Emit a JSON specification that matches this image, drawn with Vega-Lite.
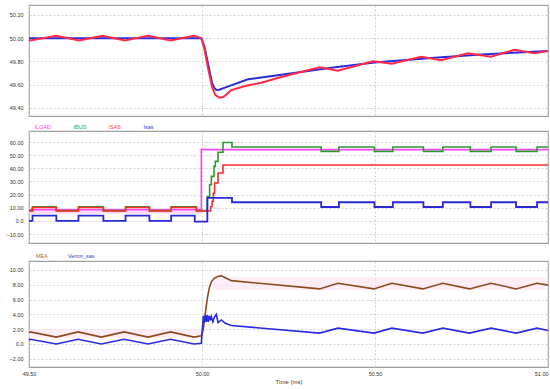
{
  "$schema": "https://vega.github.io/schema/vega-lite/v6.json",
  "padding": {"left": 5, "top": 4, "right": 3, "bottom": 2},
  "background": "white",
  "config": {
    "font": "Liberation Sans",
    "view": {"stroke": "#a0a0a0", "strokeWidth": 1.2},
    "axis": {
      "labelFontSize": 5.5,
      "labelColor": "#333333",
      "labelOverlap": false,
      "labelBound": false,
      "ticks": false,
      "domain": false,
      "grid": true,
      "gridColor": "#c4c4c4",
      "gridDash": [2, 2],
      "gridWidth": 0.8,
      "labelPadding": 6,
      "titleFontSize": 6,
      "titleFontWeight": "normal",
      "titleColor": "#333333",
      "titlePadding": 3
    },
    "legend": {
      "orient": "top",
      "direction": "horizontal",
      "title": null,
      "symbolSize": 0,
      "symbolStrokeWidth": 0,
      "labelOffset": 0,
      "labelFontSize": 5.5,
      "columnPadding": 16,
      "offset": 0,
      "padding": 0
    }
  },
  "datasets": {
    "top": [
      {"s": "Fsas", "t": 49.5, "v": 50.0},
      {"s": "Fsas", "t": 49.998, "v": 50.0},
      {"s": "Fsas", "t": 50.0068, "v": 49.93},
      {"s": "Fsas", "t": 50.0175, "v": 49.78},
      {"s": "Fsas", "t": 50.029, "v": 49.615},
      {"s": "Fsas", "t": 50.0357, "v": 49.57},
      {"s": "Fsas", "t": 50.0414, "v": 49.553},
      {"s": "Fsas", "t": 50.0501, "v": 49.556},
      {"s": "Fsas", "t": 50.0703, "v": 49.578},
      {"s": "Fsas", "t": 50.1329, "v": 49.645},
      {"s": "Fsas", "t": 50.1713, "v": 49.66},
      {"s": "Fsas", "t": 50.2291, "v": 49.685},
      {"s": "Fsas", "t": 50.3735, "v": 49.745},
      {"s": "Fsas", "t": 50.4985, "v": 49.79},
      {"s": "Fsas", "t": 50.6622, "v": 49.83},
      {"s": "Fsas", "t": 50.8066, "v": 49.86},
      {"s": "Fsas", "t": 51.0, "v": 49.89},
      {"s": "Fmea", "t": 49.5, "v": 49.985},
      {"s": "Fmea", "t": 49.504, "v": 49.98},
      {"s": "Fmea", "t": 49.579, "v": 50.02},
      {"s": "Fmea", "t": 49.645, "v": 49.98},
      {"s": "Fmea", "t": 49.712, "v": 50.02},
      {"s": "Fmea", "t": 49.777, "v": 49.98},
      {"s": "Fmea", "t": 49.844, "v": 50.02},
      {"s": "Fmea", "t": 49.909, "v": 49.98},
      {"s": "Fmea", "t": 49.977, "v": 50.02},
      {"s": "Fmea", "t": 49.998, "v": 50.0},
      {"s": "Fmea", "t": 50.0068, "v": 49.91},
      {"s": "Fmea", "t": 50.0175, "v": 49.74},
      {"s": "Fmea", "t": 50.029, "v": 49.58},
      {"s": "Fmea", "t": 50.0385, "v": 49.51},
      {"s": "Fmea", "t": 50.0509, "v": 49.487},
      {"s": "Fmea", "t": 50.0616, "v": 49.492},
      {"s": "Fmea", "t": 50.0732, "v": 49.52},
      {"s": "Fmea", "t": 50.0847, "v": 49.552},
      {"s": "Fmea", "t": 50.128, "v": 49.59},
      {"s": "Fmea", "t": 50.1713, "v": 49.615},
      {"s": "Fmea", "t": 50.2291, "v": 49.665},
      {"s": "Fmea", "t": 50.3397, "v": 49.75},
      {"s": "Fmea", "t": 50.3928, "v": 49.72},
      {"s": "Fmea", "t": 50.4939, "v": 49.8},
      {"s": "Fmea", "t": 50.5487, "v": 49.78},
      {"s": "Fmea", "t": 50.6333, "v": 49.84},
      {"s": "Fmea", "t": 50.6911, "v": 49.81},
      {"s": "Fmea", "t": 50.7682, "v": 49.87},
      {"s": "Fmea", "t": 50.8355, "v": 49.84},
      {"s": "Fmea", "t": 50.9028, "v": 49.9},
      {"s": "Fmea", "t": 50.9605, "v": 49.87},
      {"s": "Fmea", "t": 51.0, "v": 49.89}
    ],
    "cur": [
      {"s": "ILOAD", "t": 49.5, "v": 8.5},
      {"s": "ILOAD", "t": 49.998, "v": 54.2},
      {"s": "ILOAD", "t": 51.0, "v": 54.2},
      {"s": "IBUS", "t": 49.5, "v": 7.8},
      {"s": "IBUS", "t": 49.51, "v": 10.8},
      {"s": "IBUS", "t": 49.579, "v": 7.8},
      {"s": "IBUS", "t": 49.643, "v": 10.8},
      {"s": "IBUS", "t": 49.715, "v": 7.8},
      {"s": "IBUS", "t": 49.779, "v": 10.8},
      {"s": "IBUS", "t": 49.848, "v": 7.8},
      {"s": "IBUS", "t": 49.911, "v": 10.8},
      {"s": "IBUS", "t": 49.984, "v": 7.8},
      {"s": "IBUS", "t": 50.0155, "v": 18.6},
      {"s": "IBUS", "t": 50.022, "v": 27.5},
      {"s": "IBUS", "t": 50.027, "v": 33.9},
      {"s": "IBUS", "t": 50.0348, "v": 41.5},
      {"s": "IBUS", "t": 50.0385, "v": 45.3},
      {"s": "IBUS", "t": 50.0463, "v": 52.2},
      {"s": "IBUS", "t": 50.0607, "v": 59.7},
      {"s": "IBUS", "t": 50.0867, "v": 56.2},
      {"s": "IBUS", "t": 50.3446, "v": 52.9},
      {"s": "IBUS", "t": 50.3957, "v": 56.2},
      {"s": "IBUS", "t": 50.4985, "v": 52.9},
      {"s": "IBUS", "t": 50.5516, "v": 56.2},
      {"s": "IBUS", "t": 50.64, "v": 52.9},
      {"s": "IBUS", "t": 50.696, "v": 56.2},
      {"s": "IBUS", "t": 50.7757, "v": 52.9},
      {"s": "IBUS", "t": 50.8355, "v": 56.2},
      {"s": "IBUS", "t": 50.9077, "v": 52.9},
      {"s": "IBUS", "t": 50.9683, "v": 56.2},
      {"s": "IBUS", "t": 51.0, "v": 56.2},
      {"s": "ISAS", "t": 49.5, "v": 7.6},
      {"s": "ISAS", "t": 49.51, "v": 10.2},
      {"s": "ISAS", "t": 49.579, "v": 7.6},
      {"s": "ISAS", "t": 49.643, "v": 10.2},
      {"s": "ISAS", "t": 49.715, "v": 7.6},
      {"s": "ISAS", "t": 49.779, "v": 10.2},
      {"s": "ISAS", "t": 49.848, "v": 7.6},
      {"s": "ISAS", "t": 49.911, "v": 10.2},
      {"s": "ISAS", "t": 49.984, "v": 7.6},
      {"s": "ISAS", "t": 50.0249, "v": 11},
      {"s": "ISAS", "t": 50.029, "v": 15},
      {"s": "ISAS", "t": 50.0327, "v": 21},
      {"s": "ISAS", "t": 50.0365, "v": 28.8},
      {"s": "ISAS", "t": 50.0463, "v": 36.4},
      {"s": "ISAS", "t": 50.0607, "v": 42.5},
      {"s": "ISAS", "t": 51.0, "v": 42.5},
      {"s": "Isas", "t": 49.5, "v": 0},
      {"s": "Isas", "t": 49.51, "v": 4},
      {"s": "Isas", "t": 49.579, "v": 0},
      {"s": "Isas", "t": 49.643, "v": 4},
      {"s": "Isas", "t": 49.715, "v": 0},
      {"s": "Isas", "t": 49.779, "v": 4},
      {"s": "Isas", "t": 49.848, "v": 0},
      {"s": "Isas", "t": 49.911, "v": 4},
      {"s": "Isas", "t": 49.979, "v": -0.5},
      {"s": "Isas", "t": 50.0155, "v": 17.5},
      {"s": "Isas", "t": 50.0867, "v": 14.2},
      {"s": "Isas", "t": 50.3446, "v": 10.6},
      {"s": "Isas", "t": 50.3957, "v": 14.2},
      {"s": "Isas", "t": 50.4985, "v": 10.6},
      {"s": "Isas", "t": 50.5516, "v": 14.2},
      {"s": "Isas", "t": 50.64, "v": 10.6},
      {"s": "Isas", "t": 50.696, "v": 14.2},
      {"s": "Isas", "t": 50.7757, "v": 10.6},
      {"s": "Isas", "t": 50.8355, "v": 14.2},
      {"s": "Isas", "t": 50.9077, "v": 10.6},
      {"s": "Isas", "t": 50.9683, "v": 14.2},
      {"s": "Isas", "t": 51.0, "v": 14.2}
    ],
    "volt": [
      {"s": "MEA", "t": 49.5, "v": 1.55},
      {"s": "MEA", "t": 49.504, "v": 1.63},
      {"s": "MEA", "t": 49.579, "v": 0.93},
      {"s": "MEA", "t": 49.642, "v": 1.63},
      {"s": "MEA", "t": 49.709, "v": 0.93},
      {"s": "MEA", "t": 49.775, "v": 1.63},
      {"s": "MEA", "t": 49.844, "v": 0.93},
      {"s": "MEA", "t": 49.909, "v": 1.63},
      {"s": "MEA", "t": 49.977, "v": 0.93},
      {"s": "MEA", "t": 49.998, "v": 1.1},
      {"s": "MEA", "t": 50.0039, "v": 2.0},
      {"s": "MEA", "t": 50.0097, "v": 4.2},
      {"s": "MEA", "t": 50.0155, "v": 6.2},
      {"s": "MEA", "t": 50.0212, "v": 7.6},
      {"s": "MEA", "t": 50.027, "v": 8.4},
      {"s": "MEA", "t": 50.0357, "v": 8.9},
      {"s": "MEA", "t": 50.0472, "v": 9.15},
      {"s": "MEA", "t": 50.0559, "v": 9.2},
      {"s": "MEA", "t": 50.0674, "v": 8.95},
      {"s": "MEA", "t": 50.0847, "v": 8.56},
      {"s": "MEA", "t": 50.3397, "v": 7.44},
      {"s": "MEA", "t": 50.3928, "v": 8.2},
      {"s": "MEA", "t": 50.4967, "v": 7.44},
      {"s": "MEA", "t": 50.5487, "v": 8.2},
      {"s": "MEA", "t": 50.6382, "v": 7.44},
      {"s": "MEA", "t": 50.696, "v": 8.2},
      {"s": "MEA", "t": 50.7728, "v": 7.44},
      {"s": "MEA", "t": 50.8355, "v": 8.2},
      {"s": "MEA", "t": 50.9077, "v": 7.44},
      {"s": "MEA", "t": 50.9683, "v": 8.2},
      {"s": "MEA", "t": 51.0, "v": 7.95},
      {"s": "Verror_sas", "t": 49.5, "v": 0.55},
      {"s": "Verror_sas", "t": 49.504, "v": 0.64},
      {"s": "Verror_sas", "t": 49.579, "v": 0.0},
      {"s": "Verror_sas", "t": 49.642, "v": 0.64},
      {"s": "Verror_sas", "t": 49.709, "v": 0.0},
      {"s": "Verror_sas", "t": 49.775, "v": 0.64},
      {"s": "Verror_sas", "t": 49.844, "v": 0.0},
      {"s": "Verror_sas", "t": 49.909, "v": 0.64},
      {"s": "Verror_sas", "t": 49.977, "v": 0.0},
      {"s": "Verror_sas", "t": 49.998, "v": 0.1},
      {"s": "Verror_sas", "t": 50.001, "v": 2.0},
      {"s": "Verror_sas", "t": 50.0039, "v": 3.8},
      {"s": "Verror_sas", "t": 50.0068, "v": 2.9},
      {"s": "Verror_sas", "t": 50.0097, "v": 3.9},
      {"s": "Verror_sas", "t": 50.0126, "v": 3.0},
      {"s": "Verror_sas", "t": 50.0155, "v": 3.9},
      {"s": "Verror_sas", "t": 50.0184, "v": 3.0},
      {"s": "Verror_sas", "t": 50.0212, "v": 3.8},
      {"s": "Verror_sas", "t": 50.0241, "v": 3.2},
      {"s": "Verror_sas", "t": 50.027, "v": 3.7},
      {"s": "Verror_sas", "t": 50.0313, "v": 3.0},
      {"s": "Verror_sas", "t": 50.0357, "v": 3.6},
      {"s": "Verror_sas", "t": 50.0414, "v": 4.0},
      {"s": "Verror_sas", "t": 50.0463, "v": 2.9},
      {"s": "Verror_sas", "t": 50.0559, "v": 3.25},
      {"s": "Verror_sas", "t": 50.0674, "v": 2.8},
      {"s": "Verror_sas", "t": 50.0847, "v": 2.5},
      {"s": "Verror_sas", "t": 50.3397, "v": 1.47},
      {"s": "Verror_sas", "t": 50.3928, "v": 2.14},
      {"s": "Verror_sas", "t": 50.4967, "v": 1.47},
      {"s": "Verror_sas", "t": 50.5487, "v": 2.14},
      {"s": "Verror_sas", "t": 50.6382, "v": 1.47},
      {"s": "Verror_sas", "t": 50.696, "v": 2.14},
      {"s": "Verror_sas", "t": 50.7728, "v": 1.47},
      {"s": "Verror_sas", "t": 50.8355, "v": 2.14},
      {"s": "Verror_sas", "t": 50.9077, "v": 1.47},
      {"s": "Verror_sas", "t": 50.9683, "v": 2.14},
      {"s": "Verror_sas", "t": 51.0, "v": 1.82}
    ],
    "band2": [
      {"t": 49.5, "t2": 50.0, "v": 5.5, "v2": 9.8}
    ],
    "band3": [
      {"t": 49.5, "t2": 50.0, "v": 0.8, "v2": 2.0},
      {"t": 50.03, "t2": 51.0, "v": 7.3, "v2": 9.0}
    ]
  },
  "spacing": 6,
  "resolve": {"scale": {"color": "independent", "y": "independent"}, "legend": {"color": "independent"}},
  "vconcat": [
    {
      "width": 519,
      "height": 111,
      "data": {"name": "top"},
      "mark": {"type": "line", "strokeWidth": 2},
      "encoding": {
        "x": {"field": "t", "type": "quantitative", "scale": {"domain": [49.5, 51.0], "nice": false, "zero": false}, "axis": {"values": [49.5, 50.0, 50.5, 51.0], "labels": false, "title": null}},
        "y": {"field": "v", "type": "quantitative", "scale": {"domain": [49.329, 50.286], "nice": false, "zero": false}, "axis": {"values": [49.4, 49.6, 49.8, 50.0, 50.2], "format": ".2f", "title": null, "labelOverlap": false}},
        "color": {"field": "s", "type": "nominal", "scale": {"domain": ["Fsas", "Fmea"], "range": ["#2b2bd9", "#ff2a4a"]}, "legend": null}
      }
    },
    {
      "width": 519,
      "height": 112,
      "encoding": {
        "x": {"field": "t", "type": "quantitative", "scale": {"domain": [49.5, 51.0], "nice": false, "zero": false}, "axis": {"values": [49.5, 50.0, 50.5, 51.0], "labels": false, "title": null}},
        "y": {"field": "v", "type": "quantitative", "scale": {"domain": [-16.8, 68.4], "nice": false, "zero": false}, "axis": {"values": [-10, 0, 10, 20, 30, 40, 50, 60], "labelOverlap": false, "labelExpr": "datum.value == 0 ? '0.0' : format(datum.value, '.2f')", "title": null}}
      },
      "layer": [
        {
          "data": {"name": "band2"},
          "mark": {"type": "rect", "color": "#ffd3ef", "opacity": 0.8},
          "encoding": {
            "x2": {"field": "t2"},
            "y2": {"field": "v2"}
          }
        },
        {
          "data": {"name": "cur"},
          "encoding": {
            "color": {"field": "s", "type": "nominal", "scale": {"domain": ["ILOAD", "IBUS", "ISAS", "Isas"], "range": ["#ff44ff", "#2e9a2e", "#ff2a2a", "#2828d8"]},
              "legend": {"encode": {"labels": {"update": {"fill": {"signal": "datum.value === 'ILOAD' ? '#ff44ee' : datum.value === 'IBUS' ? '#3aa03a' : datum.value === 'ISAS' ? '#ff4060' : '#3a3ad0'"}}}}}}
          },
          "layer": [
            {"transform": [{"filter": "datum.s === 'ILOAD'"}], "mark": {"type": "line", "interpolate": "step-after", "strokeWidth": 1.6}},
            {"transform": [{"filter": "datum.s === 'IBUS'"}], "mark": {"type": "line", "interpolate": "step-after", "strokeWidth": 1.6}},
            {"transform": [{"filter": "datum.s === 'ISAS'"}], "mark": {"type": "line", "interpolate": "step-after", "strokeWidth": 1.6}},
            {"transform": [{"filter": "datum.s === 'Isas'"}], "mark": {"type": "line", "interpolate": "step-after", "strokeWidth": 1.8}}
          ]
        }
      ]
    },
    {
      "width": 519,
      "height": 106,
      "encoding": {
        "x": {"field": "t", "type": "quantitative", "scale": {"domain": [49.5, 51.0], "nice": false, "zero": false}, "axis": {"values": [49.5, 50.0, 50.5, 51.0], "format": ".2f", "title": "Time (ms)", "titleColor": "#333333", "labelPadding": 4, "titlePadding": 2, "labelAlign": {"expr": "datum.value >= 51 ? 'right' : 'center'"}}},
        "y": {"field": "v", "type": "quantitative", "scale": {"domain": [-3.11, 11.21], "nice": false, "zero": false}, "axis": {"values": [-2, 0, 2, 4, 6, 8, 10], "labelOverlap": false, "labelExpr": "datum.value == 0 ? '0.0' : format(datum.value, '.2f')", "title": null}}
      },
      "layer": [
        {
          "data": {"name": "band3"},
          "mark": {"type": "rect", "color": "#ffe6f4", "opacity": 0.7},
          "encoding": {
            "x2": {"field": "t2"},
            "y2": {"field": "v2"}
          }
        },
        {
          "data": {"name": "volt"},
          "mark": {"type": "line", "strokeWidth": 1.6},
          "encoding": {
            "color": {"field": "s", "type": "nominal", "scale": {"domain": ["MEA", "Verror_sas"], "range": ["#8b4a1e", "#2a2ae0"]},
              "legend": {"columnPadding": 14, "padding": 1.5, "encode": {"labels": {"update": {"fill": {"signal": "datum.value === 'MEA' ? '#b06a3a' : '#3a3ad0'"}}}}}}
          }
        }
      ]
    }
  ]
}
